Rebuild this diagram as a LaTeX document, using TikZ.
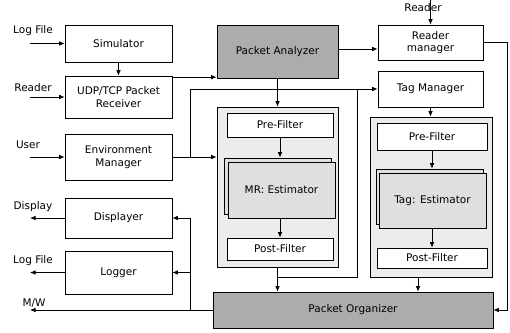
\documentclass[tikz,border=0pt]{standalone}
\usepackage{fontspec}
\setmainfont{DejaVu Sans}
\usetikzlibrary{arrows.meta}
\begin{document}
\begin{tikzpicture}[x=1pt, y=1pt, every node/.style={font=\fontsize{10.5}{12.5}\selectfont},
  box/.style={draw, fill=white, line width=.7pt, minimum width=107pt, align=center, inner sep=1pt},
  darkbox/.style={box, fill=gray!65},
  grp/.style={draw, fill=gray!15, line width=.7pt},
  estbox/.style={draw, fill=gray!25, line width=.7pt, minimum width=107pt},
  arr/.style={-{Latex[length=5.5pt,width=4.5pt]}, line width=.7pt}]
  \useasboundingbox (0,0) rectangle (510,332);
  \node[box, minimum height=37pt] (sim) at (118.5,288.5) {Simulator};
  \node[box, minimum height=42pt] (udp) at (118.5,235) {UDP/TCP Packet\\Receiver};
  \node[box, minimum height=46pt] (env) at (118.5,175) {Environment\\Manager};
  \node[box, minimum height=40pt] (disp) at (118.5,114) {Displayer};
  \node[box, minimum height=43pt] (log) at (118.5,59.5) {Logger};
  \node[darkbox, minimum width=121pt, minimum height=53pt] (pa) at (277.5,280.5) {Packet Analyzer};
  \node[box, minimum width=105pt, minimum height=35pt] (rm) at (430.5,289.5) {Reader\\manager};
  \node[box, minimum width=105pt, minimum height=36pt] (tm) at (430.5,243) {Tag Manager};
  \node[darkbox, minimum width=280pt, minimum height=36pt] (po) at (353,22) {Packet Organizer};
  \node[grp, minimum width=121pt, minimum height=160pt] (mrg) at (277.5,145) {};
  \node[box, minimum width=106pt, minimum height=24pt] (mrpre) at (280,207) {Pre-Filter};
  \node[estbox, minimum height=56pt] (mrbk) at (277.5,146) {};
  \node[estbox, minimum height=56pt] (mrest) at (281.5,142) {MR: Estimator};
  \node[box, minimum width=106pt, minimum height=22pt] (mrpost) at (280,83) {Post-Filter};
  \node[grp, minimum width=122pt, minimum height=160pt] (tagg) at (431,135) {};
  \node[box, minimum width=110pt, minimum height=27pt] (tagpre) at (432,195.5) {Pre-Filter};
  \node[estbox, minimum height=55pt] (tagbk) at (429.5,135.5) {};
  \node[estbox, minimum height=55pt] (tagest) at (432.5,131.5) {Tag: Estimator};
  \node[box, minimum width=110pt, minimum height=20pt] (tagpost) at (432,74) {Post-Filter};
  \node (lfin) at (33,301) {Log File};
  \node (rdin) at (33,244) {Reader};
  \node (usr) at (28,187) {User};
  \node (rdtop) at (423,324) {Reader};
  \node (dsp) at (33,125) {Display};
  \node (lfout) at (33,71) {Log File};
  \node (mw) at (34,29) {M/W};
  \coordinate (lfinA) at (30,288.5);
  \coordinate (rdinA) at (30,235);
  \coordinate (usrA) at (30,175);
  \coordinate (rdtopA) at (430.5,332);
  \coordinate (dspA) at (30,114);
  \coordinate (lfoutA) at (30,59.5);
  \coordinate (mwA) at (30,22);
  \coordinate (br1) at (190,175);
  \coordinate (br2) at (190,22);
  \coordinate (j1) at (357,243);
  \coordinate (j2) at (357,55);
  \coordinate (j3) at (277.5,55);
  \coordinate (rmR) at (507,289.5);
  \coordinate (u1) at ([yshift=-1.5pt]udp.north east);
  \coordinate (p1) at ([yshift=2.5pt]pa.east);
  \coordinate (t1) at ([xshift=-13pt]tagg.south);
  \draw[arr] (lfinA) -- (sim.west);
  \draw[arr] (rdinA) -- (udp.west);
  \draw[arr] (usrA) -- (env.west);
  \draw[arr] (rdtopA) -- (rm.north);
  \draw[arr] (sim.south) -- (udp.north);
  \draw[arr] (u1) -- (u1 -| pa.west);
  \draw[arr] (p1) -- (p1 -| rm.west);
  \draw[arr] (rm.east) -- (rmR) |- (po.east);
  \draw[arr] (pa.south) -- (mrg.north);
  \draw[arr] (env.east) -- (env.east -| mrg.west);
  \draw[arr] (br1) |- (tm.west);
  \draw[line width=.7pt] (j1) -- (j2) -- (j3);
  \draw[arr] (mrpre.south) -- (mrpre.south |- mrbk.north);
  \draw[arr] (mrpost.north |- mrest.south) -- (mrpost.north);
  \draw[arr] (mrg.south) -- (mrg.south |- po.north);
  \draw[arr] (tm.south) -- (tm.south |- tagg.north);
  \draw[arr] (tagpre.south) -- (tagpre.south |- tagbk.north);
  \draw[arr] (tagpost.north |- tagest.south) -- (tagpost.north);
  \draw[arr] (t1) -- (t1 |- po.north);
  \draw[arr] (po.west) -- (mwA);
  \draw[arr] (br2) |- (disp.east);
  \draw[arr] (br2 |- log.east) -- (log.east);
  \draw[arr] (disp.west) -- (dspA);
  \draw[arr] (log.west) -- (lfoutA);
\end{tikzpicture}
\end{document}
